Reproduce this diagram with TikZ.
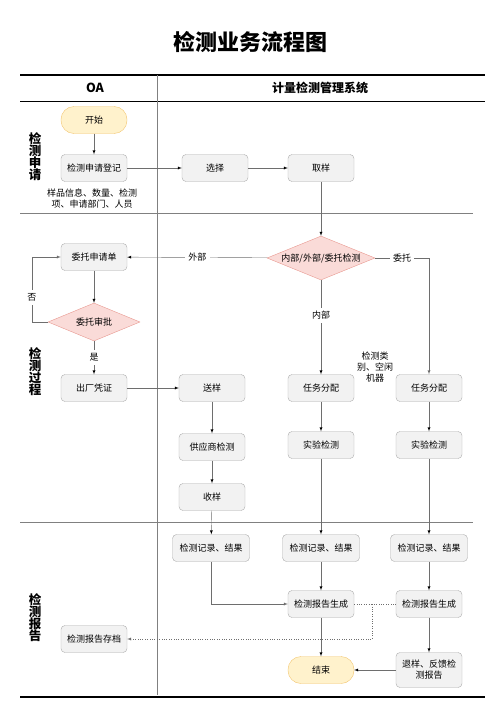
\documentclass[tikz,border=0pt]{standalone}
\usepackage{fontspec}
\setmainfont{Noto Sans CJK SC}
\usetikzlibrary{shapes.geometric}
\definecolor{boxfill}{HTML}{F2F2F2}
\definecolor{boxline}{HTML}{ABABAB}
\definecolor{endfill}{HTML}{FFF2CC}
\definecolor{endline}{HTML}{F2C46D}
\definecolor{decfill}{HTML}{FADBD8}
\definecolor{decline}{HTML}{E8978F}
\definecolor{flow}{HTML}{6E6E6E}
\begin{document}
\begin{tikzpicture}[x=1pt,y=-1pt,
  main node/.style={draw=boxline,fill=boxfill,rounded corners=4pt,minimum width=66pt,minimum height=27pt,inner sep=2pt,font=\fontsize{9}{11}\selectfont},
  wide node/.style={main node,minimum width=77pt},
  end node/.style={main node,draw=endline,fill=endfill,rounded corners=13pt},
  dec node/.style={diamond,draw=decline,fill=decfill,aspect=2.4,inner sep=0pt,font=\fontsize{9}{11}\selectfont},
  lane label/.style={font=\fontsize{12.5}{12}\selectfont\bfseries,align=center},
  note/.style={font=\fontsize{9}{11}\selectfont,align=center},
  line/.style={draw=flow,-latex}]

  \useasboundingbox (0,0) rectangle (500,707);

  % title and table
  \node[font=\fontsize{22}{24}\selectfont\bfseries] (title) at (250,42) {检测业务流程图};
  \draw[line width=1.6pt] (20,75) -- (485,75);
  \draw[line width=1.6pt] (20,101.5) -- (485,101.5);
  \draw[line width=1.6pt] (20,697) -- (485,697);
  \draw[gray] (157,75) -- (157,695);
  \draw[gray] (20,213) -- (473,213);
  \draw[gray] (20,522) -- (473,522);
  \node[font=\fontsize{12.5}{14}\selectfont\bfseries] (oa) at (95,88) {OA};
  \node[font=\fontsize{12}{14}\selectfont\bfseries] (sys) at (320,88) {计量检测管理系统};
  \node[lane label] (lane1) at (35,157) {检\\测\\申\\请};
  \node[lane label] (lane2) at (35,372) {检\\测\\过\\程};
  \node[lane label] (lane3) at (35,618) {检\\测\\报\\告};

  % nodes
  \node[end node] (start) at (94,120) {开始};
  \node[main node] (reg) at (94,168) {检测申请登记};
  \node[note] (info) at (92,199) {样品信息、数量、检测\\项、申请部门、人员};
  \node[main node] (sel) at (215,168) {选择};
  \node[main node] (take) at (321,168) {取样};
  \node[dec node,minimum width=108pt,minimum height=44pt] (kind) at (321,258) {内部/外部/委托检测};
  \node[main node] (apply) at (94,257) {委托申请单};
  \node[dec node,minimum width=92pt,minimum height=38pt] (appr) at (94,322) {委托审批};
  \node[main node] (cert) at (94,388) {出厂凭证};
  \node[main node] (send) at (212,388) {送样};
  \node[main node] (task1) at (321,388) {任务分配};
  \node[main node] (task2) at (429,388) {任务分配};
  \node[main node] (supp) at (212,447) {供应商检测};
  \node[main node] (recv) at (212,497) {收样};
  \node[main node] (lab1) at (321,445) {实验检测};
  \node[main node] (lab2) at (429,445) {实验检测};
  \node[wide node] (rec0) at (211,548) {检测记录、结果};
  \node[wide node] (rec1) at (321,548) {检测记录、结果};
  \node[wide node] (rec2) at (429,548) {检测记录、结果};
  \node[main node] (rep1) at (321,604) {检测报告生成};
  \node[main node] (rep2) at (429,604) {检测报告生成};
  \node[main node] (arch) at (94,639) {检测报告存档};
  \node[end node] (stop) at (321,670) {结束};
  \node[main node,minimum height=35pt,align=center] (back) at (429,670) {退样、反馈检\\测报告};
  \coordinate (jn) at (372,604);

  % connectors
  \path[line]
  (start) edge (reg)
  (reg) edge (sel)
  (sel) edge (take)
  (take) edge (kind)
  (kind) edge node[fill=white,font=\fontsize{9}{11}\selectfont] {外部} (apply)
  (kind) edge node[pos=0.37,fill=white,font=\fontsize{9}{11}\selectfont] {内部} (task1)
  (apply) edge (appr)
  (appr) edge node[fill=white,font=\fontsize{9}{11}\selectfont] {是} (cert)
  (cert) edge (send)
  (send) edge (supp)
  (supp) edge (recv)
  (recv) edge (rec0)
  (task1) edge (lab1)
  (lab1) edge (rec1)
  (rec1) edge (rep1)
  (rep1) edge (stop)
  (task2) edge (lab2)
  (lab2) edge (rec2)
  (rec2) edge (rep2)
  (rep2) edge (back)
  (back) edge (stop);
  \draw[line] (kind.east) -| node[pos=0.25,fill=white,font=\fontsize{9}{11}\selectfont] {委托} (task2.north);
  \draw[line] (appr.west) -- ++(-16,0) |- node[pos=0.19,fill=white,font=\fontsize{9}{11}\selectfont] {否} (apply.west);
  \draw[line] (rec0.south) |- (rep1.west);
  \draw[flow,dotted] (rep1.east) -- (jn);
  \draw[line,dotted] (rep2.west) -- (jn) |- (arch.east);
  \node[note,fill=white,inner sep=1pt] (mach) at (375,367) {检测类\\别、空闲\\机器};
\end{tikzpicture}
\end{document}
